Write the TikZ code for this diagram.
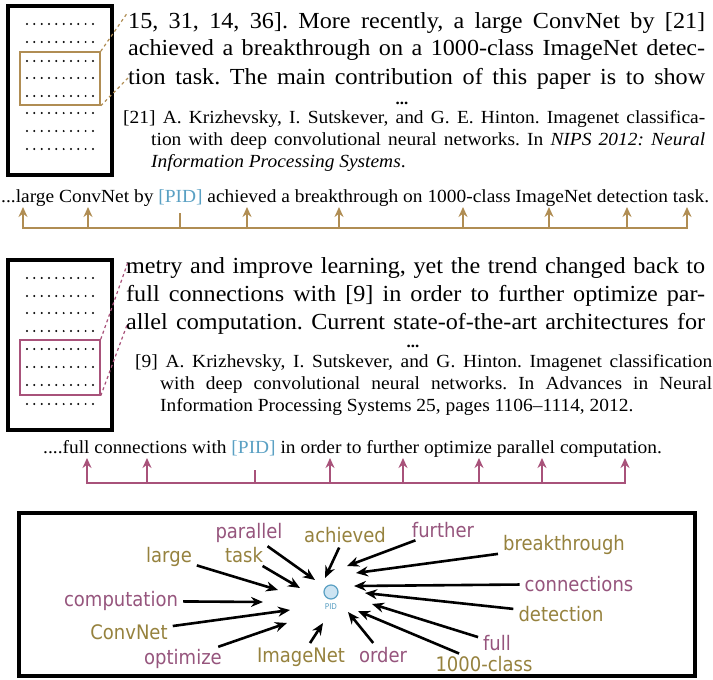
\documentclass[tikz,border=0pt]{standalone}
\usepackage{fontspec}
\setmainfont{Liberation Serif}[FakeStretch=1.05]
\newfontfamily\wordfont{DejaVu Sans}[FakeStretch=0.9]
\usetikzlibrary{arrows.meta}
\usetikzlibrary{shadows}
\frenchspacing

\definecolor{tanline}{RGB}{176,141,83}
\definecolor{mauveline}{RGB}{168,82,122}
\definecolor{tanword}{RGB}{150,130,62}
\definecolor{mauveword}{RGB}{150,85,125}
\definecolor{pidblue}{RGB}{90,160,195}
\definecolor{pidfill}{RGB}{205,228,242}

\begin{document}
\begin{tikzpicture}[x=1pt,y=-1pt,
    docframe/.style={draw=black,line width=4pt,fill=white,drop shadow={shadow xshift=2pt,shadow yshift=-2pt,opacity=0.3}},
    hlbox/.style={draw=#1,line width=1.5pt,inner sep=0pt},
    zoomline/.style={draw=#1,dashed,line width=1.2pt},
    barrule/.style={draw=#1,line width=2.8pt},
    uparrow/.style={draw=#1,line width=2.4pt,-{Stealth[length=10pt,width=9pt]}},
    bodyline/.style={anchor=base west,inner sep=0pt,font=\fontsize{23}{27}\selectfont},
    refline/.style={anchor=base west,inner sep=0pt,font=\fontsize{18.5}{22}\selectfont},
    gapdots/.style={anchor=base,inner sep=0pt,font=\fontsize{16}{16}\selectfont\bfseries},
    sentence/.style={anchor=base west,inner sep=0pt,font=\fontsize{18.5}{20}\selectfont},
    word/.style={inner sep=1pt,font=\wordfont\fontsize{20}{22}\selectfont,text=#1},
    wordarrow/.style={line width=2.6pt,-{Stealth[length=12pt,width=10pt]},shorten <=4pt}
]
\useasboundingbox (0,0) rectangle (713,680);

% first excerpt
\draw[docframe] (8,6) rectangle (112,175);
\foreach \r in {24,42,61,78,96,113,131,149}
    \foreach \c in {0,...,9}
        \fill (27+7.33*\c,\r) circle (1.1pt);
\node[hlbox=tanline,minimum width=80pt,minimum height=53pt] (hlA) at (60,78.5) {};
\coordinate (zA1) at (128,12);
\coordinate (zA2) at (128,78);
\draw[zoomline=tanline] (hlA.north east) -- (zA1);
\draw[zoomline=tanline] (hlA.south east) -- (zA2);

\node[bodyline] (tA1) at (128,28) {\makebox[577pt][s]{15, 31, 14, 36]. More recently, a large ConvNet by [21]}};
\node[bodyline] (tA2) at (128,56) {\makebox[577pt][s]{achieved a breakthrough on a 1000-class ImageNet detec-}};
\node[bodyline] (tA3) at (128,84) {\makebox[577pt][s]{tion task. The main contribution of this paper is to show}};
\node[gapdots] (dotsA) at (402,104) {...};
\node[refline] (rA1) at (123,123) {\makebox[582pt][s]{[21] A. Krizhevsky, I. Sutskever, and G. E. Hinton. Imagenet classifica-}};
\node[refline] (rA2) at (151,145) {\makebox[554pt][s]{tion with deep convolutional neural networks. In \textit{NIPS 2012: Neural}}};
\node[refline] (rA3) at (151,167) {\textit{Information Processing Systems}.};

% first sentence with its bar
\node[sentence] (sA) at (1,202) {...large ConvNet by \textcolor{pidblue}{[PID]} achieved a breakthrough on 1000-class ImageNet detection task.};
\draw[barrule=tanline] (23,228) -- (687,228);
\foreach \x in {23,88,247,339,463,549,627,687}
    \draw[uparrow=tanline] (\x,229) -- (\x,207);
\draw[barrule=tanline,line width=2.4pt] (180,228) -- (180,213);

% second excerpt
\draw[docframe] (8,260) rectangle (112,430);
\foreach \r in {278,296,313,331,349,367,385,404}
    \foreach \c in {0,...,9}
        \fill (27+7.33*\c,\r) circle (1.1pt);
\node[hlbox=mauveline,minimum width=80pt,minimum height=55pt] (hlB) at (60,367.5) {};
\coordinate (zB1) at (128,262);
\coordinate (zB2) at (127,325);
\draw[zoomline=mauveline] (hlB.north east) -- (zB1);
\draw[zoomline=mauveline] (hlB.south east) -- (zB2);

\node[bodyline] (tB1) at (126,273) {\makebox[579pt][s]{metry and improve learning, yet the trend changed back to}};
\node[bodyline] (tB2) at (126,301) {\makebox[579pt][s]{full connections with [9] in order to further optimize par-}};
\node[bodyline] (tB3) at (126,329) {\makebox[579pt][s]{allel computation. Current state-of-the-art architectures for}};
\node[gapdots] (dotsB) at (413,347) {...};
\node[refline] (rB1) at (135,367) {\makebox[577pt][s]{[9] A. Krizhevsky, I. Sutskever, and G. Hinton. Imagenet classification}};
\node[refline] (rB2) at (160,389) {\makebox[552pt][s]{with deep convolutional neural networks. In Advances in Neural}};
\node[refline] (rB3) at (160,411) {Information Processing Systems 25, pages 1106--1114, 2012.};

% second sentence with its bar
\node[sentence] (sB) at (43,453) {....full connections with \textcolor{pidblue}{[PID]} in order to further optimize parallel computation.};
\draw[barrule=mauveline] (87,483) -- (625,483);
\foreach \x in {87,147,330,403,479,542,625}
    \draw[uparrow=mauveline] (\x,484) -- (\x,458);
\draw[barrule=mauveline,line width=2.4pt] (255,483) -- (255,470);

% context words around PID
\draw[docframe] (19,513) rectangle (695,676);
\node[circle,draw=pidblue,fill=pidfill,line width=1.2pt,minimum size=14pt,inner sep=0pt] (pid) at (331,592) {};
\node[font=\wordfont\fontsize{8}{9}\selectfont,text=pidblue,inner sep=0pt] (pidlabel) at (331,607) {PID};

\foreach \n/\t/\x/\y/\c in {parallel/parallel/249/533/mauveword,
        achieved/achieved/345/535/tanword,
        further/further/443/530/mauveword,
        breakthrough/breakthrough/564/545/tanword,
        large/large/169/557/tanword,
        task/task/244/555/tanword,
        connections/connections/579/584/mauveword,
        computation/computation/121/601/mauveword,
        detection/detection/561/614/tanword,
        convnet/ConvNet/129/632/tanword,
        full/full/497/643/mauveword,
        optimize/optimize/183/659/mauveword,
        imagenet/ImageNet/301/657/tanword,
        order/order/383/655/mauveword,
        thousand/1000-class/484/664/tanword}
    \node[word=\c] (\n) at (\x,\y) {\t};

\foreach \n/\x/\y in {large/278/590, task/300/588, parallel/315/580,
        achieved/325/578, further/347/566, breakthrough/356/573,
        connections/354/586, detection/365/593, full/372/604,
        thousand/358/611, order/348/612, imagenet/323/623,
        optimize/287/623, convnet/290/610, computation/263/602}
    \draw[wordarrow] (\n) -- (\x,\y);
\end{tikzpicture}
\end{document}
